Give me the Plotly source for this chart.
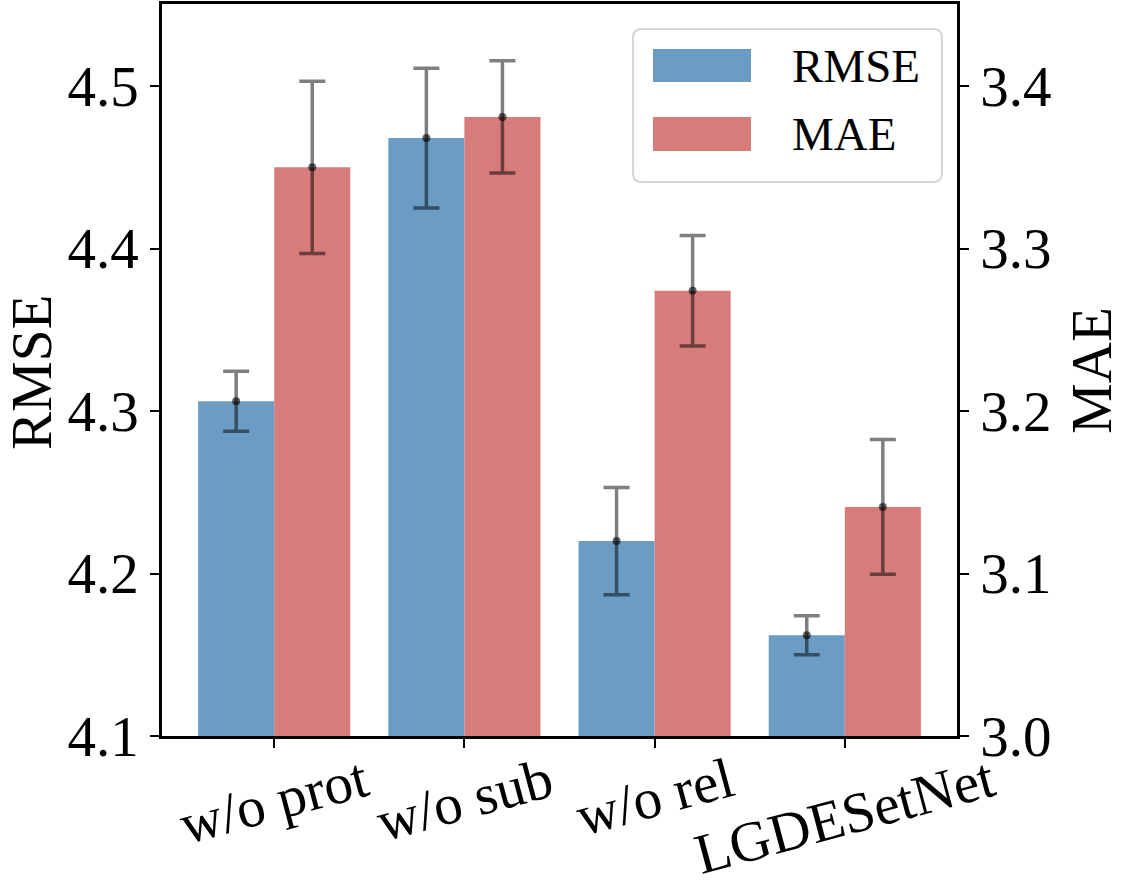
import plotly.graph_objects as go

# ablation results
models = ["w/o prot", "w/o sub", "w/o rel", "LGDESetNet"]
rmse = [4.306, 4.468, 4.220, 4.162]
rmse_err = [0.0185, 0.043, 0.033, 0.012]
mae = [3.350, 3.381, 3.274, 3.141]
mae_err = [0.053, 0.0345, 0.034, 0.0415]

rmse_ticks = [4.1, 4.2, 4.3, 4.4, 4.5]
mae_ticks = [3.0, 3.1, 3.2, 3.3, 3.4]

FONT = "Liberation Serif"
BLUE = "rgb(107,156,196)"
RED = "rgb(215,123,123)"
ERR = "rgba(0,0,0,0.5)"

idx = list(range(len(models)))
bw = 0.4

fig = go.Figure()

fig.add_trace(go.Bar(x=idx, y=[v - 4.1 for v in rmse], base=4.1, width=bw, offset=-bw,
                     marker=dict(color=BLUE, line=dict(width=0)), name="RMSE",
                     yaxis="y"))
fig.add_trace(go.Bar(x=idx, y=[v - 3.0 for v in mae], base=3.0, width=bw, offset=0,
                     marker=dict(color=RED, line=dict(width=0)), name="MAE",
                     yaxis="y2"))

# error bars with centre dots
fig.add_trace(go.Scatter(x=[i - bw / 2 for i in idx], y=rmse, mode="markers", yaxis="y",
                         marker=dict(color="rgba(0,0,0,0.6)", size=8),
                         error_y=dict(type="data", array=rmse_err, color=ERR,
                                      thickness=3.5, width=13),
                         showlegend=False))
fig.add_trace(go.Scatter(x=[i + bw / 2 for i in idx], y=mae, mode="markers", yaxis="y2",
                         marker=dict(color="rgba(0,0,0,0.6)", size=8),
                         error_y=dict(type="data", array=mae_err, color=ERR,
                                      thickness=3.5, width=13),
                         showlegend=False))

tickfont = dict(family=FONT, size=57, color="black")
axis_common = dict(showline=True, linecolor="black", linewidth=2.5, ticks="outside",
                   ticklen=9, tickwidth=2, tickcolor="black", showgrid=False,
                   zeroline=False, tickfont=tickfont, automargin=False)

fig.update_layout(
    width=1136, height=880,
    margin=dict(l=162, r=179, t=4, b=144, autoexpand=False),
    plot_bgcolor="white", paper_bgcolor="white",
    showlegend=False, barmode="overlay",
    xaxis=dict(range=[-0.59, 3.59], tickvals=idx, showticklabels=False,
               mirror=True, **axis_common),
    yaxis=dict(range=[4.1, 4.5505], tickvals=rmse_ticks,
               ticktext=[f"{t:.1f}" for t in rmse_ticks], **axis_common),
    yaxis2=dict(range=[3.0, 3.4505], tickvals=mae_ticks, overlaying="y", side="right",
                ticktext=[f"{t:.1f}" for t in mae_ticks], **axis_common),
)

# rotated category labels centred under ticks
for i, m in zip(idx, models):
    fig.add_annotation(x=i, y=0, xref="x", yref="paper", text=m, showarrow=False,
                       textangle=-15, xanchor="center", yanchor="top", yshift=-7,
                       font=tickfont)

# axis titles
fig.add_annotation(x=-0.165, y=0.497, xref="paper", yref="paper", text="RMSE",
                   showarrow=False, textangle=-90, xanchor="center", yanchor="middle",
                   font=tickfont)
fig.add_annotation(x=1.17, y=0.499, xref="paper", yref="paper", text="MAE",
                   showarrow=False, textangle=-90, xanchor="center", yanchor="middle",
                   font=tickfont)

# legend drawn by hand to get wide patches
x0, x1, y0, y1 = 0.5925, 0.9811, 0.7568, 0.9658
rx, ry = 0.011, 0.012
path = (f"M {x0+rx},{y0} L {x1-rx},{y0} Q {x1},{y0} {x1},{y0+ry} "
        f"L {x1},{y1-ry} Q {x1},{y1} {x1-rx},{y1} L {x0+rx},{y1} "
        f"Q {x0},{y1} {x0},{y1-ry} L {x0},{y0+ry} Q {x0},{y0} {x0+rx},{y0} Z")
fig.add_shape(type="path", path=path, xref="paper", yref="paper",
              fillcolor="rgba(255,255,255,0.85)", line=dict(color="#d6d6d6", width=2))
fig.add_shape(type="rect", xref="paper", yref="paper", x0=0.6176, x1=0.7409,
              y0=0.8934, y1=0.9385, fillcolor=BLUE, line=dict(width=0))
fig.add_shape(type="rect", xref="paper", yref="paper", x0=0.6176, x1=0.7409,
              y0=0.7992, y1=0.8456, fillcolor=RED, line=dict(width=0))
legfont = dict(family=FONT, size=47, color="black")
fig.add_annotation(x=0.79, y=0.9153, xref="paper", yref="paper", text="RMSE",
                   showarrow=False, xanchor="left", yanchor="middle", font=legfont)
fig.add_annotation(x=0.79, y=0.8224, xref="paper", yref="paper", text="MAE",
                   showarrow=False, xanchor="left", yanchor="middle", font=legfont)

# drop the default page margin so the figure sits at the window corner
fig.write_html("out.html", config={"displayModeBar": False},
               post_script="document.body.style.margin='0';")
